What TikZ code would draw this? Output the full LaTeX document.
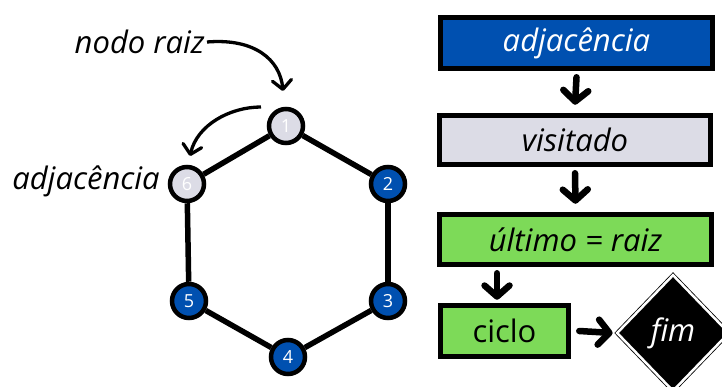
\documentclass[tikz,border=0pt]{standalone}
\usepackage{fontspec}
\setmainfont{Open Sans}
\usetikzlibrary{arrows.meta,shapes.geometric}
\definecolor{nblue}{HTML}{0050B0}
\definecolor{ngrey}{HTML}{DCDCE6}
\definecolor{ngreen}{HTML}{7DDA58}
\tikzset{
  vert/.style={circle,draw=black,line width=4.5pt,minimum size=34pt,inner sep=0pt,text=white,font=\fontsize{18}{18}\selectfont},
  edge/.style={line width=5.5pt},
  lbl/.style={font=\fontsize{31}{31}\selectfont\itshape,inner sep=0pt},
  box/.style={draw=black,line width=5.5pt,inner sep=0pt,font=\fontsize{31}{31}\selectfont\itshape},
  flow/.style={line width=6.5pt,line cap=round,-{Straight Barb[length=11pt,width=25pt,round]}},
  curv/.style={line width=3.3pt,-{Straight Barb[length=9pt,width=19pt,round]}},
}
\begin{document}
\begin{tikzpicture}[x=1pt,y=-1pt]
\useasboundingbox (0,0) rectangle (722,387);
% graph
\node[vert,fill=ngrey] (n1) at (286,126) {1};
\node[vert,fill=nblue] (n2) at (388,184) {2};
\node[vert,fill=nblue] (n3) at (388,301) {3};
\node[vert,fill=nblue] (n4) at (288,357) {4};
\node[vert,fill=nblue] (n5) at (189,301) {5};
\node[vert,fill=ngrey] (n6) at (187,184) {6};
\draw[edge] (n1) -- (n2);
\draw[edge] (n2) -- (n3);
\draw[edge] (n3) -- (n4);
\draw[edge] (n4) -- (n5);
\draw[edge] (n5) -- (n6);
\draw[edge] (n6) -- (n1);
% labels
\node[lbl,anchor=east] (root) at (205,42) {nodo raiz};
\node[lbl,anchor=east] (adj) at (160,181) {adjacência};
\coordinate (t1) at (283,91);
\coordinate (s2) at (261,107);
\coordinate (t2) at (190,156);
\draw[curv] ([xshift=2pt]root.east) .. controls (255,38) and (280,60) .. (t1);
\draw[curv] (s2) .. controls (230,107) and (197,125) .. (t2);
% flowchart
\node[box,fill=nblue,text=white,minimum width=272pt,minimum height=51pt] (b1) at (576.5,43) {adjacência};
\node[box,fill=ngrey,minimum width=271pt,minimum height=49pt] (b2) at (575,140) {visitado};
\node[box,fill=ngreen,minimum width=272pt,minimum height=50pt] (b3) at (575.5,239.5) {último = raiz};
\node[box,fill=ngreen,font=\fontsize{31}{31}\selectfont,minimum width=128pt,minimum height=51pt] (b4) at (504.5,331) {ciclo};
\node[diamond,fill=black,draw=black,double=white,double distance=2.5pt,line width=0.8pt,inner sep=0pt,minimum width=112pt,minimum height=116pt,text=white,font=\fontsize{31}{31}\selectfont\itshape] (fim) at (673,333) {fim};
\draw[flow] ([yshift=-6pt]b1.south) -- ([yshift=8pt]b2.north);
\draw[flow] ([yshift=-6pt]b2.south) -- ([yshift=8pt]b3.north);
\draw[flow] ([yshift=-6pt]b3.south -| 497,0) -- ([yshift=3pt]b4.north -| 497,0);
\draw[flow] ([xshift=8pt]b4.east) -- ([xshift=-4pt]fim.west);
\end{tikzpicture}
\end{document}
